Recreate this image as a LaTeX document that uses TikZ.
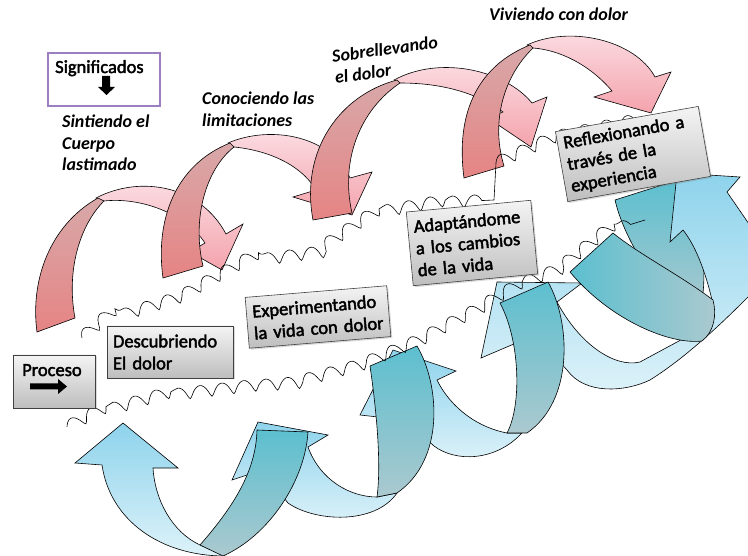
\documentclass[tikz,border=0pt]{standalone}
\usepackage{fontspec}
\setmainfont{Carlito}[BoldFont=Carlito, BoldFeatures={FakeBold=2.2}, BoldItalicFont={Carlito Bold Italic}]
\usepackage{tikz}
\usetikzlibrary{decorations.pathmorphing,shadows}

\definecolor{pinkTop}{HTML}{D8A8A9}
\definecolor{pinkBot}{HTML}{E68484}
\definecolor{pinkLite}{HTML}{FCE0E6}
\definecolor{pinkMid}{HTML}{F4A3AC}
\definecolor{blueSky}{HTML}{8ED3EC}
\definecolor{blueLite}{HTML}{DDF2F9}
\definecolor{tealTop}{HTML}{5CBFCF}
\definecolor{tealBot}{HTML}{ABC9CF}
\definecolor{boxTop}{HTML}{F4F4F4}
\definecolor{boxBot}{HTML}{BEBEBE}
\definecolor{sigPurple}{HTML}{9B7FC0}

\begin{document}
\begin{tikzpicture}[x=1pt,y=-1pt,
    legpink/.style={draw=black, line width=0.6pt, top color=pinkTop, bottom color=pinkBot},
    backpink/.style={draw=black, line width=0.6pt, top color=pinkLite, bottom color=pinkMid},
    legteal/.style={draw=black, line width=0.6pt, top color=tealTop, bottom color=tealBot},
    backblue/.style={draw=black, line width=0.6pt, top color=blueSky, bottom color=blueLite},
    wave/.style={decorate, decoration={coil, amplitude=6pt, segment length=22pt, aspect=0.3}, line width=0.6pt},
    stage/.style={draw=black!75, line width=0.6pt, top color=boxTop, bottom color=boxBot,
      font=\bfseries\fontsize{18.5}{22}\selectfont, align=left, inner xsep=6pt, inner ysep=4pt,
      drop shadow={opacity=0.3, shadow xshift=1.5pt, shadow yshift=-1.5pt}},
    phase/.style={font=\bfseries\itshape\fontsize{18}{21.5}\selectfont, align=left, inner sep=0pt}]
  \useasboundingbox (0,0) rectangle (748,556);

  % pink arrows, back band first and then the leg
  \path[backpink] (96,198) .. controls (140,175) and (200,185) .. (226,234) -- (243,224) -- (222,270) -- (190,252) -- (205,243) .. controls (185,213) and (140,197) .. (104,201) -- cycle;
  \path[legpink] (37,332) .. controls (30,280) and (50,225) .. (98,198) -- (104,201) .. controls (80,225) and (66,270) .. (75,318) -- cycle;

  \path[backpink] (228,143) .. controls (270,125) and (330,135) .. (350,178) -- (372,172) -- (352,215) -- (293,197) -- (316,190) .. controls (300,163) and (265,150) .. (234,147) -- cycle;
  \path[legpink] (163,278) .. controls (155,220) and (175,165) .. (230,143) -- (234,147) .. controls (205,170) and (192,220) .. (203,266) -- cycle;

  \path[backpink] (394,80) .. controls (440,55) and (505,70) .. (532,103) -- (547,97) -- (531,147) -- (488,118) -- (503,112) .. controls (470,88) and (430,83) .. (400,83) -- cycle;
  \path[legpink] (313,220) .. controls (300,150) and (340,95) .. (397,80) -- (400,83) .. controls (360,110) and (340,160) .. (352,213) -- cycle;

  \path[backpink] (527,45) .. controls (570,25) and (635,40) .. (655,77) -- (671,72) -- (651,113) -- (594,97) -- (612,91) .. controls (590,65) and (560,50) .. (533,48) -- cycle;
  \path[legpink] (464,178) .. controls (455,110) and (480,65) .. (530,45) -- (533,48) .. controls (505,75) and (490,120) .. (504,166) -- cycle;

  % blue ribbon, from the right end back to the left
  \path[legteal] (615,200) -- (678,180) .. controls (700,220) and (710,270) .. (700,310) -- (660,290) .. controls (640,260) and (622,230) .. (615,200) -- cycle;
  \path[backblue] (481,358) -- (497,282) -- (582,283) -- (557,302) .. controls (580,345) and (615,368) .. (640,362) -- (690,335) -- (712,300) .. controls (705,270) and (695,245) .. (683,230) -- (670,242) -- (677,173) -- (740,177) -- (727,192) -- (760,240) -- (760,290) -- (750,295) .. controls (730,315) and (690,355) .. (650,380) .. controls (625,392) and (585,395) .. (567,370) -- (535,335) -- cycle;
  \path[draw=black, line width=0.6pt, left color=tealTop, right color=tealBot] (570,272) -- (613,233) .. controls (640,255) and (680,275) .. (713,300) .. controls (717,315) and (714,332) .. (702,341) .. controls (670,345) and (610,320) .. (570,272) -- cycle;

  \path[backblue] (360,415) -- (393,350) -- (456,371) -- (437,380) .. controls (452,410) and (480,428) .. (507,433) -- (522,433) .. controls (495,462) and (455,462) .. (434,446) -- (405,420) -- cycle;
  \path[legteal] (507,433) .. controls (522,405) and (520,340) .. (500,303) -- (548,282) .. controls (570,320) and (575,400) .. (527,433) -- cycle;

  \path[backblue] (232,480) -- (258,422) -- (328,435) -- (308,447) .. controls (320,480) and (350,497) .. (377,497) -- (397,493) .. controls (375,525) and (315,522) .. (288,503) -- (262,470) -- cycle;
  \path[legteal] (377,497) .. controls (382,460) and (375,400) .. (370,366) -- (417,346) .. controls (440,385) and (445,460) .. (397,493) -- cycle;

  \path[backblue] (123,423) -- (75,463) -- (102,465) .. controls (110,520) and (160,556) .. (225,556) -- (200,545) .. controls (172,532) and (155,500) .. (153,468) -- (178,468) -- cycle;
  \path[legteal] (200,545) .. controls (235,505) and (256,470) .. (257,430) -- (308,432) .. controls (305,480) and (270,535) .. (223,556) -- cycle;

  % wavy lines
  \draw[wave] (82,338) -- (100,322) -- (180,297) -- (242,262) -- (313,253) -- (373,213) -- (430,203) -- (494,200);
  \draw[line width=0.6pt] (494,200) -- (496,163);
  \draw[wave] (496,163) -- (554,137) -- (645,118);
  \draw[wave] (67,427) -- (90,415) -- (153,397) -- (240,387) -- (293,383) -- (360,365) -- (417,341) -- (474,311) -- (517,285) -- (557,270) -- (603,233) -- (645,220);

  % boxes
  \node[draw=sigPurple, line width=1.6pt, minimum width=112pt, minimum height=53pt] (sig) at (104,79.5) {};
  \node[anchor=base west, font=\bfseries\fontsize{18.5}{22}\selectfont, inner sep=0pt] (sigtext) at (55,73) {Significados};
  \fill (102,76) -- (110,76) -- (110,87) -- (115,87) -- (106.5,95) -- (98,87) -- (102,87) -- cycle;

  \node[stage, minimum width=82pt, minimum height=53pt] (proceso) at (54,381.5) {};
  \node[anchor=base west, font=\bfseries\fontsize{18.5}{22}\selectfont, inner sep=0pt] (procesotext) at (22,376) {Proceso};
  \fill (30,383.5) -- (58,383.5) -- (58,379) -- (67,386.5) -- (58,394) -- (58,389.5) -- (30,389.5) -- cycle;

  \node[stage, text width=114pt, minimum height=52pt] (descubriendo) at (170,352) {Descubriendo\\El dolor};
  \node[stage, text width=130pt, minimum height=51pt, rotate=4.7] (experimentando) at (318,317) {Experimentando\\la vida con dolor};
  \node[stage, text width=113pt, minimum height=74pt, rotate=5.4] (adaptandome) at (472,243) {Adaptándome\\a los cambios\\de la vida};
  \node[stage, text width=133pt, minimum height=71pt, rotate=10] (reflexionando) at (633,154) {Reflexionando a\\través de la\\experiencia};

  % stage names
  \node[phase, anchor=north west] (sintiendo) at (62,115) {Sintiendo el\\Cuerpo\\lastimado};
  \node[phase, anchor=north west] (conociendo) at (202,92) {Conociendo las\\limitaciones};
  \node[phase, anchor=north west, rotate=8] (sobrellevando) at (331,50) {Sobrellevando\\el dolor};
  \node[phase, anchor=base west] (viviendo) at (489,21) {Viviendo con dolor};
\end{tikzpicture}
\end{document}
